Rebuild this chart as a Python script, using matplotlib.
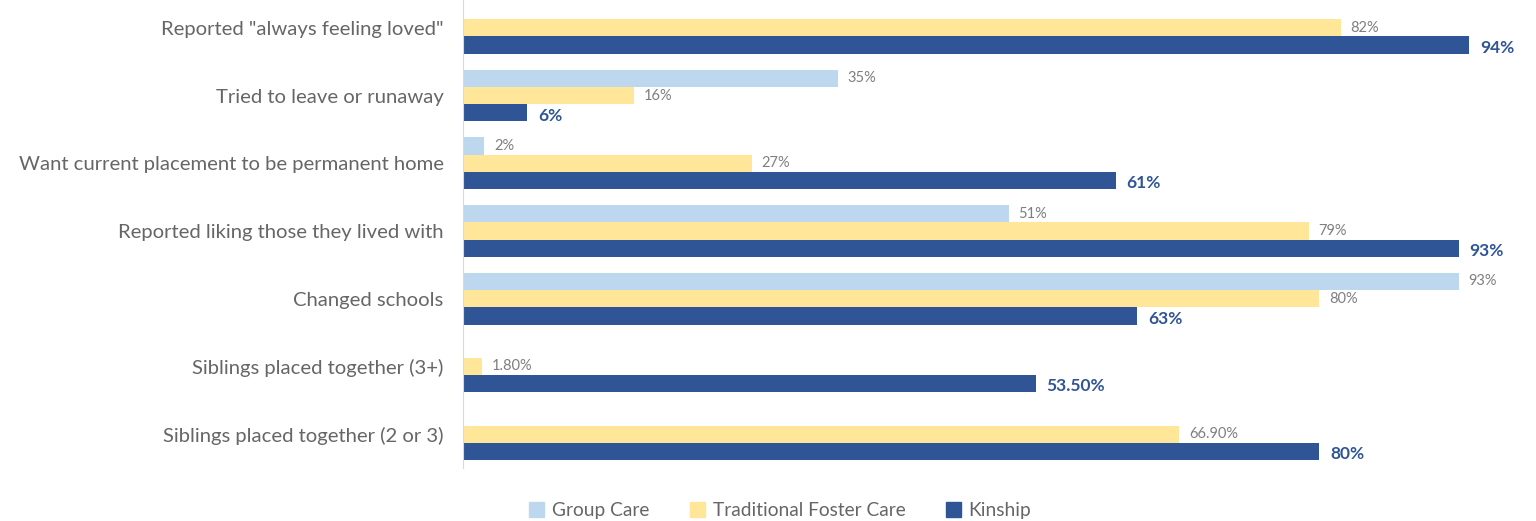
import numpy as np
import matplotlib.pyplot as plt
from matplotlib.patches import Patch

categories = ['Reported "always feeling loved"',
              'Tried to leave or runaway',
              'Want current placement to be permanent home',
              'Reported liking those they lived with',
              'Changed schools',
              'Siblings placed together (3+)',
              'Siblings placed together (2 or 3)']
series = ['Group Care', 'Traditional Foster Care', 'Kinship']
group_care = [np.nan, 35, 2, 51, 93, np.nan, np.nan]
foster_care = [82, 16, 27, 79, 80, 1.8, 66.9]
kinship = [94, 6, 61, 93, 63, 53.5, 80]
group_labels = ['', '35%', '2%', '51%', '93%', '', '']
foster_labels = ['82%', '16%', '27%', '79%', '80%', '1.80%', '66.90%']
kinship_labels = ['94%', '6%', '61%', '93%', '63%', '53.50%', '80%']

colors = ['#BDD7EE', '#FFE699', '#2F5597']
grey = '#7F7F7F'
plt.rcParams['font.family'] = ['Lato', 'DejaVu Sans']

fig = plt.figure(figsize=(15.36, 5.21), dpi=100)
ax = fig.add_axes([0.3014, 0.1017, 0.697, 0.9098])

y = np.arange(len(categories))
h = 0.255
vals = [group_care, foster_care, kinship]
labs = [group_labels, foster_labels, kinship_labels]
for i in range(3):
    pos = y + (i - 1) * h
    ax.barh(pos, vals[i], height=h, color=colors[i], label=series[i])
    for p, v, t in zip(pos, vals[i], labs[i]):
        if np.isnan(v) or t == '':
            continue
        if i == 2:
            ax.text(v + 1.0, p + 0.04, t, va='center', ha='left', fontsize=12.5,
                    fontweight='bold', color=colors[2])
        else:
            ax.text(v + 0.9, p, t, va='center', ha='left', fontsize=10.5, color=grey)

ax.set_xlim(0, 100)
ax.set_ylim(len(categories) - 0.5, -0.5)
ax.set_yticks(y)
ax.set_yticklabels(categories, fontsize=14.6, color='#666666')
ax.tick_params(axis='y', length=0, pad=14)
ax.set_xticks([])
for s in ['top', 'right', 'bottom']:
    ax.spines[s].set_visible(False)
ax.spines['left'].set_color('#D9D9D9')

handles = [Patch(color=c) for c in colors]
fig.legend(handles, series, loc='lower center', bbox_to_anchor=(0.508, -0.03),
           ncol=3, frameon=False, fontsize=13.8, handlelength=0.8, handleheight=0.8,
           handletextpad=0.4, columnspacing=2.1, labelcolor='#666666')

fig.savefig('out.png', dpi=100)
